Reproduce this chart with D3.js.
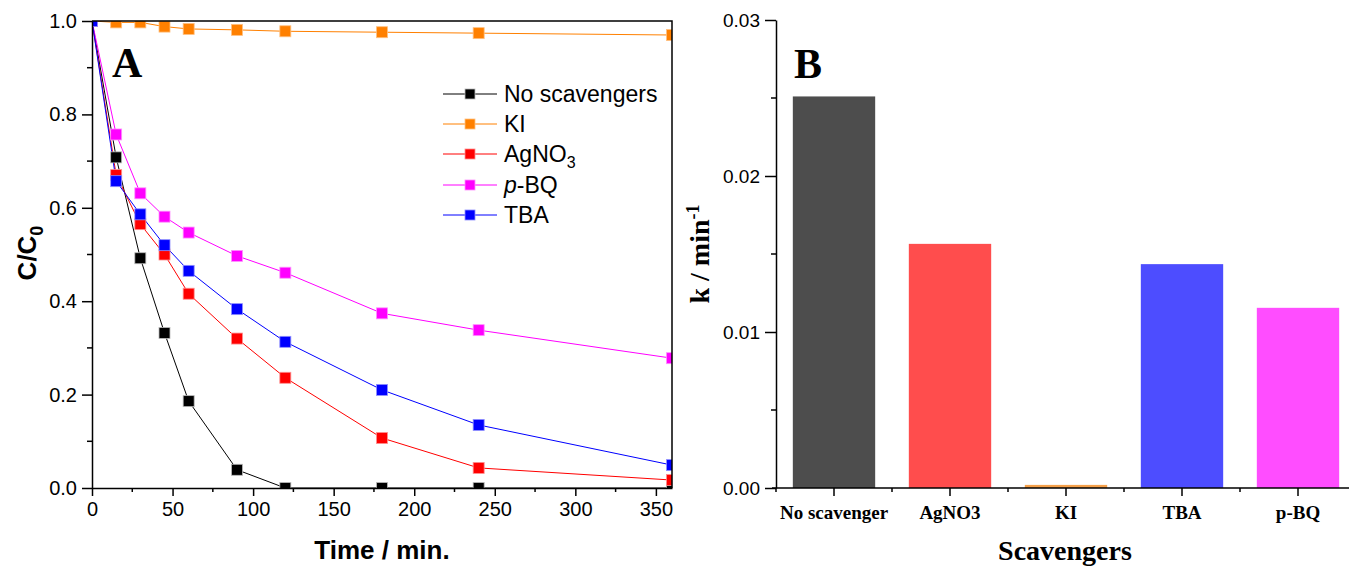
<!DOCTYPE html>
<html lang="en">
<head>
<meta charset="utf-8">
<script src="https://cdn.jsdelivr.net/npm/d3@7/dist/d3.min.js"></script>
<style>
  body { margin: 0; background: #fff; }
  svg { display: block; }
  .tick text { font-family: "Liberation Sans", Arial, sans-serif; }
</style>
</head>
<body>
<script>

// ---- panel A data ----
var times = [0, 15, 30, 45, 60, 90, 120, 180, 240, 360];
var noScav = [1.0, 0.708, 0.492, 0.332, 0.186, 0.039, 0.0, 0.0, 0.0, 0.0];
var kiVals = [1.0, 0.997, 0.997, 0.988, 0.983, 0.981, 0.978, 0.976, 0.974, 0.970];
var agVals = [1.0, 0.670, 0.565, 0.500, 0.416, 0.320, 0.236, 0.107, 0.043, 0.017];
var bqVals = [1.0, 0.757, 0.631, 0.581, 0.547, 0.497, 0.461, 0.374, 0.338, 0.278];
var tbaVals = [1.0, 0.657, 0.586, 0.520, 0.465, 0.383, 0.313, 0.210, 0.135, 0.049];
var xTicks = [0, 50, 100, 150, 200, 250, 300, 350];
var yTicks = [0, 0.2, 0.4, 0.6, 0.8, 1.0];

// ---- panel B data ----
var categories = ["No scavenger", "AgNO3", "KI", "TBA", "p-BQ"];
var kVals = [0.0251, 0.01565, 0.0002, 0.01435, 0.01155];
var kTicks = [0, 0.01, 0.02, 0.03];

var series = [
    {name: "No scavengers", vals: noScav, color: "#000000", edge: "#bbbbbb"},
    {name: "KI", vals: kiVals, color: "#ff8000", edge: "#ffc080"},
    {name: "AgNO3", vals: agVals, color: "#ff0000", edge: "#ff9090"},
    {name: "p-BQ", vals: bqVals, color: "#ff00ff", edge: "#ff90ff"},
    {name: "TBA", vals: tbaVals, color: "#0000ff", edge: "#9090ff"}
];
var barColors = ["#4d4d4d", "#ff4d4d", "#f5a04a", "#4d4dff", "#ff4dff"];

var svg = d3.select("body").append("svg")
        .attr("width", 1349)
        .attr("height", 568);

var sans = "'Liberation Sans', Arial, sans-serif";
var serif = "'Liberation Serif', 'Times New Roman', serif";

/*
 panel A
 */
var x = d3.scaleLinear().domain([0, 360]).range([92, 672]);
var y = d3.scaleLinear().domain([0, 1]).range([488, 21]);

svg.append("clipPath").attr("id", "clipA")
    .append("rect")
    .attr("x", x(0)).attr("y", y(1))
    .attr("width", x(360) - x(0)).attr("height", y(0) - y(1));

var plotA = svg.append("g").attr("clip-path", "url(#clipA)");
var line = d3.line()
    .x(function(d, i){ return x(times[i]); })
    .y(function(d){ return y(d); });

series.forEach(function(s){
    plotA.append("path")
        .attr("d", line(s.vals))
        .attr("fill", "none")
        .attr("stroke", s.color)
        .attr("stroke-width", 1);
});
series.forEach(function(s){
    plotA.selectAll(null)
        .data(s.vals)
        .enter()
        .append("rect")
        .attr("x", function(d, i){ return x(times[i]) - 5.5; })
        .attr("y", function(d){ return y(d) - 5.5; })
        .attr("width", 11)
        .attr("height", 11)
        .attr("fill", s.color)
        .attr("stroke", s.edge)
        .attr("stroke-width", 0.8);
});

// box
svg.append("path")
    .attr("d", "M" + x(0) + "," + y(1) + "H" + x(360) + "V" + y(0))
    .attr("fill", "none").attr("stroke", "#000").attr("stroke-width", 1.5);

// x axis
var gx = svg.append("g").attr("transform", "translate(0," + y(0) + ")")
    .call(d3.axisBottom(x).tickValues(xTicks).tickSize(8).tickSizeOuter(0).tickPadding(6)
        .tickFormat(d3.format("d")));
gx.selectAll(".tick text").style("font-size", "20px");
gx.selectAll(".minor")
    .data(d3.range(25, 360, 50))
    .enter().append("line")
    .attr("x1", function(d){ return x(d); }).attr("x2", function(d){ return x(d); })
    .attr("y1", 0).attr("y2", 4)
    .attr("stroke", "#000").attr("stroke-width", 1.5);
gx.select(".domain").attr("stroke-width", 1.5);
gx.selectAll(".tick line").attr("stroke-width", 1.5);

// y axis
var gy = svg.append("g").attr("transform", "translate(" + x(0) + ",0)")
    .call(d3.axisLeft(y).tickValues(yTicks).tickSize(10).tickSizeOuter(0).tickPadding(5)
        .tickFormat(d3.format(".1f")));
gy.selectAll(".tick text").style("font-size", "20px");
gy.selectAll(".minor")
    .data([0.1, 0.3, 0.5, 0.7, 0.9])
    .enter().append("line")
    .attr("y1", function(d){ return y(d); }).attr("y2", function(d){ return y(d); })
    .attr("x1", 0).attr("x2", -5)
    .attr("stroke", "#000").attr("stroke-width", 1.5);
gy.select(".domain").attr("stroke-width", 1.5);
gy.selectAll(".tick line").attr("stroke-width", 1.5);

svg.append("text")
    .attr("x", 382).attr("y", 559)
    .attr("text-anchor", "middle")
    .style("font-family", sans).style("font-weight", "bold").style("font-size", "26px")
    .text("Time / min.");

var ylab = svg.append("text")
    .attr("transform", "translate(36,253) rotate(-90)")
    .attr("text-anchor", "middle")
    .style("font-family", sans).style("font-weight", "bold").style("font-size", "26px");
ylab.append("tspan").text("C/C");
ylab.append("tspan").attr("dy", 7).style("font-size", "18px").text("0");

svg.append("text")
    .attr("x", 112).attr("y", 77)
    .style("font-family", serif).style("font-weight", "bold").style("font-size", "42px")
    .text("A");

// legend
var legend = svg.append("g");
var legendY = [94, 124, 154, 185, 215];
series.forEach(function(s, i){
    var g = legend.append("g").attr("transform", "translate(0," + legendY[i] + ")");
    g.append("line").attr("x1", 443).attr("x2", 497).attr("y1", 0).attr("y2", 0)
        .attr("stroke", s.color).attr("stroke-width", 1);
    g.append("rect").attr("x", 465).attr("y", -5).attr("width", 10).attr("height", 10)
        .attr("fill", s.color).attr("stroke", s.edge).attr("stroke-width", 0.8);
    var t = g.append("text").attr("x", 504).attr("y", 8)
        .style("font-family", sans).style("font-size", "23px");
    if (s.name === "AgNO3") {
        t.append("tspan").text("AgNO");
        t.append("tspan").attr("dy", 6).style("font-size", "16px").text("3");
    } else if (s.name === "p-BQ") {
        t.append("tspan").style("font-style", "italic").text("p");
        t.append("tspan").text("-BQ");
    } else {
        t.text(s.name);
    }
});

/*
 panel B
 */
var xb = d3.scaleBand().domain(categories).range([776, 1356]).paddingInner(0.29).paddingOuter(0.145);
var yb = d3.scaleLinear().domain([0, 0.03]).range([488, 20]);

svg.selectAll(".bar")
    .data(kVals)
    .enter()
    .append("rect")
    .attr("class", "bar")
    .attr("x", function(d, i){ return xb(categories[i]); })
    .attr("y", function(d){ return yb(d); })
    .attr("width", xb.bandwidth())
    .attr("height", function(d){ return yb(0) - yb(d); })
    .attr("fill", function(d, i){ return barColors[i]; });

var gbx = svg.append("g").attr("transform", "translate(0," + yb(0) + ")")
    .call(d3.axisBottom(xb).tickSize(8).tickSizeOuter(0).tickPadding(10));
gbx.select(".domain").attr("d", "M772,0H1349").attr("stroke-width", 1.5);
gbx.selectAll(".tick line").attr("stroke-width", 1.5);
gbx.selectAll(".tick text")
    .style("font-family", serif).style("font-weight", "bold").style("font-size", "19px");
gbx.selectAll(".minor")
    .data(d3.range(0, 6))
    .enter().append("line")
    .attr("x1", function(d){ return 776 + d * xb.step(); })
    .attr("x2", function(d){ return 776 + d * xb.step(); })
    .attr("y1", 0).attr("y2", 4)
    .attr("stroke", "#000").attr("stroke-width", 1.5);

var gby = svg.append("g").attr("transform", "translate(776,0)")
    .call(d3.axisLeft(yb).tickValues(kTicks).tickSize(11).tickSizeOuter(0).tickPadding(5)
        .tickFormat(d3.format(".2f")));
gby.selectAll(".tick text").style("font-size", "19px");
gby.select(".domain").attr("stroke-width", 1.5);
gby.selectAll(".tick line").attr("stroke-width", 1.5);
gby.selectAll(".minor")
    .data([0.005, 0.015, 0.025])
    .enter().append("line")
    .attr("y1", function(d){ return yb(d); }).attr("y2", function(d){ return yb(d); })
    .attr("x1", 0).attr("x2", -5)
    .attr("stroke", "#000").attr("stroke-width", 1.5);

var klab = svg.append("text")
    .attr("transform", "translate(709,254) rotate(-90)")
    .attr("text-anchor", "middle")
    .style("font-family", serif).style("font-weight", "bold").style("font-size", "28px");
klab.append("tspan").text("k / min");
klab.append("tspan").attr("dy", -10).style("font-size", "18px").text("-1");

svg.append("text")
    .attr("x", 1065).attr("y", 560)
    .attr("text-anchor", "middle")
    .style("font-family", serif).style("font-weight", "bold").style("font-size", "28px")
    .text("Scavengers");

svg.append("text")
    .attr("x", 794).attr("y", 78)
    .style("font-family", serif).style("font-weight", "bold").style("font-size", "42px")
    .text("B");

</script>
</body>
</html>
